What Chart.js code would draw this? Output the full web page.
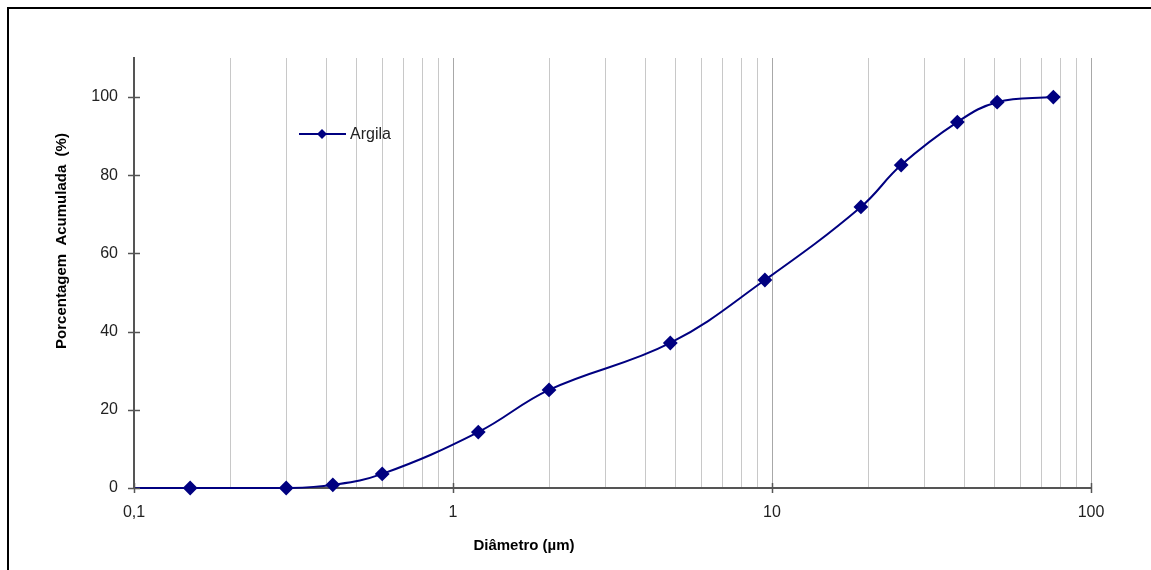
<!DOCTYPE html>
<html>
<head>
<meta charset="utf-8">
<script src="https://cdn.jsdelivr.net/npm/chart.js@4"></script>
<style>
  html, body { margin: 0; padding: 0; background: #fff; overflow: hidden; }
  #frame { position: absolute; left: 7px; top: 7px; width: 2000px; height: 2000px;
           border-top: 2px solid #000; border-left: 2px solid #000; }
  #wrap { position: absolute; left: 0; top: 0; width: 1151px; height: 570px; }
</style>
</head>
<body>
<div id="frame"></div>
<div id="wrap"><canvas id="curva" width="1151" height="570"></canvas></div>
<script>
// dados da curva granulométrica (o 1o ponto, em 0,1, não tem marcador)
const diametro = [0.1, 0.15, 0.3, 0.42, 0.6, 1.2, 2.0, 4.8, 9.5, 19.0, 25.4, 38.1, 50.8, 76.2];
const acumulada = [0, 0, 0, 0.8, 3.6, 14.3, 25.1, 37.1, 53.2, 71.9, 82.6, 93.6, 98.7, 100];
const serieNome = 'Argila';

// ticks / grade
const xDecadas = [0.1, 1, 10, 100];
const xGrade = [0.1, 0.2, 0.3, 0.4, 0.5, 0.6, 0.7, 0.8, 0.9,
                1, 2, 3, 4, 5, 6, 7, 8, 9,
                10, 20, 30, 40, 50, 60, 70, 80, 90, 100];
const yTicks = [0, 20, 40, 60, 80, 100];

const tituloX = 'Diâmetro (µm)';
const tituloY = 'Porcentagem  Acumulada  (%)';

const azul = '#000080';
const fonte = '"Liberation Sans", Arial, sans-serif';

// titulos, legenda e tracinhos dos eixos desenhados à mão
const extras = {
  id: 'extras',
  afterDraw(chart) {
    const ctx = chart.ctx;
    const { left, right, top, bottom } = chart.chartArea;
    const xs = chart.scales.x, ys = chart.scales.y;
    ctx.save();
    ctx.strokeStyle = '#555';
    ctx.lineWidth = 1.5;
    yTicks.forEach(v => {
      const py = Math.round(ys.getPixelForValue(v)) + 0.5;
      ctx.beginPath(); ctx.moveTo(left - 6, py); ctx.lineTo(left + 6, py); ctx.stroke();
    });
    xDecadas.forEach(v => {
      const px = Math.round(xs.getPixelForValue(v)) + 0.5;
      ctx.beginPath(); ctx.moveTo(px, bottom - 5); ctx.lineTo(px, bottom + 5); ctx.stroke();
    });

    // titulos
    ctx.fillStyle = '#000';
    ctx.font = 'bold 15px ' + fonte;
    ctx.textAlign = 'center';
    ctx.textBaseline = 'middle';
    ctx.fillText(tituloX, 524, 546);
    ctx.translate(62, 241);
    ctx.rotate(-Math.PI / 2);
    ctx.fillText(tituloY, 0, 0);
    ctx.setTransform(1, 0, 0, 1, 0, 0);

    // legenda
    const ly = 134;
    ctx.strokeStyle = azul;
    ctx.lineWidth = 2;
    ctx.beginPath(); ctx.moveTo(299, ly); ctx.lineTo(346, ly); ctx.stroke();
    ctx.fillStyle = azul;
    ctx.beginPath();
    ctx.moveTo(322, ly - 5); ctx.lineTo(327, ly); ctx.lineTo(322, ly + 5); ctx.lineTo(317, ly);
    ctx.closePath(); ctx.fill();
    ctx.fillStyle = '#222';
    ctx.font = '16px ' + fonte;
    ctx.textAlign = 'left';
    ctx.fillText(serieNome, 350, ly + 1);
    ctx.restore();
  }
};

new Chart(document.getElementById('curva'), {
  type: 'line',
  data: {
    datasets: [{
      label: serieNome,
      data: diametro.map((d, i) => ({ x: d, y: acumulada[i] })),
      borderColor: azul,
      backgroundColor: azul,
      borderWidth: 2,
      tension: 0.4,
      pointStyle: 'rectRot',
      pointRadius: (c) => c.dataIndex === 0 ? 0 : 6,
      pointHoverRadius: (c) => c.dataIndex === 0 ? 0 : 6,
      clip: false
    }]
  },
  options: {
    responsive: false,
    animation: false,
    layout: { padding: { left: 0, top: 58, right: 60, bottom: 0 } },
    plugins: { legend: { display: false }, tooltip: { enabled: false } },
    scales: {
      x: {
        type: 'logarithmic',
        min: 0.1,
        max: 100,
        afterBuildTicks: (s) => { s.ticks = xGrade.map(v => ({ value: v })); },
        afterFit: (s) => { s.height = 82; },
        border: { color: '#555', width: 2 },
        grid: {
          drawTicks: false,
          color: (c) => xDecadas.includes(c.tick && c.tick.value) ? '#a8a8a8' : '#c8c8c8',
          lineWidth: 1
        },
        ticks: {
          autoSkip: false,
          maxRotation: 0,
          padding: 15,
          color: '#222',
          font: { family: fonte, size: 16 },
          callback: (v) => xDecadas.includes(v) ? String(v).replace('.', ',') : ''
        }
      },
      y: {
        min: 0,
        max: 110,
        afterBuildTicks: (s) => { s.ticks = yTicks.map(v => ({ value: v })); },
        afterFit: (s) => { s.width = 134; },
        border: { color: '#555', width: 2 },
        grid: { drawOnChartArea: false, drawTicks: false },
        ticks: {
          padding: 16,
          color: '#222',
          font: { family: fonte, size: 16 }
        }
      }
    }
  },
  plugins: [extras]
});
</script>
</body>
</html>
